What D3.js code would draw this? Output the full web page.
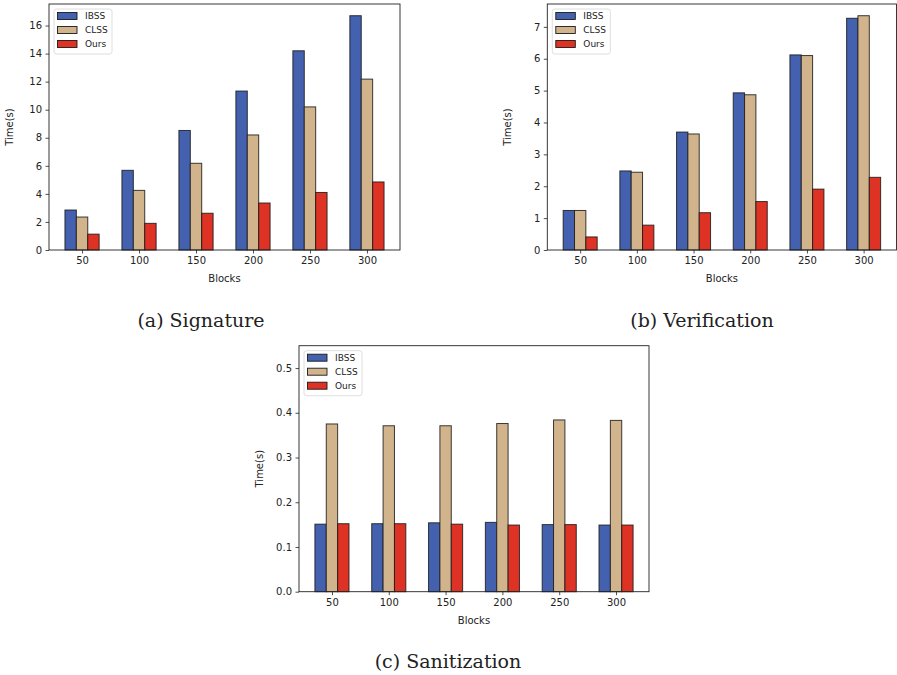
<!DOCTYPE html>
<html>
<head>
<meta charset="utf-8">
<script src="https://cdn.jsdelivr.net/npm/d3@7"></script>
<style>
body { margin: 0; background: #fff; }
svg text { font-family: "DejaVu Sans", sans-serif; fill: #222; }
.caption { font-family: "DejaVu Serif", serif; }
</style>
</head>
<body>
<div id="container"></div>
<script>
let blocks = ["50", "100", "150", "200", "250", "300"];
let seriesNames = ["IBSS", "CLSS", "Ours"];
let seriesColors = ["#4361ae", "#d2b48c", "#de3224"];

// (a) Signature
let sigIBSS = [2.85, 5.68, 8.52, 11.33, 14.2, 16.7];
let sigCLSS = [2.35, 4.25, 6.18, 8.2, 10.2, 12.18];
let sigOurs = [1.13, 1.9, 2.62, 3.35, 4.1, 4.85];
let sigTicks = [0, 2, 4, 6, 8, 10, 12, 14, 16];

// (b) Verification
let verIBSS = [1.24, 2.48, 3.7, 4.93, 6.12, 7.27];
let verCLSS = [1.24, 2.44, 3.64, 4.87, 6.1, 7.35];
let verOurs = [0.41, 0.78, 1.17, 1.52, 1.91, 2.28];
let verTicks = [0, 1, 2, 3, 4, 5, 6, 7];

// (c) Sanitization
let sanIBSS = [0.151, 0.152, 0.154, 0.155, 0.150, 0.149];
let sanCLSS = [0.375, 0.371, 0.371, 0.376, 0.384, 0.383];
let sanOurs = [0.152, 0.152, 0.151, 0.149, 0.150, 0.149];
let sanTicks = [0.0, 0.1, 0.2, 0.3, 0.4, 0.5];

let svg = d3.select('#container').append('svg')
    .attr('width', 897)
    .attr('height', 675);

function drawPanel(opts) {
    let left = opts.left, right = opts.right, top = opts.top, bottom = opts.bottom;
    let series = opts.series;
    let g = svg.append('g');

    // matplotlib style: bars at i, i+0.2, i+0.4, ticks at i+0.2
    let x = d3.scaleLinear().domain([-0.38, 5.78]).range([left, right]);
    let y = d3.scaleLinear().domain([0, opts.ymax]).range([bottom, top]);
    let bw = x(0.2) - x(0);

    series.forEach(function (vals, s) {
        g.selectAll(null)
            .data(vals)
            .enter()
            .append('rect')
            .attr('x', (d, i) => x(i + s * 0.2) - bw / 2)
            .attr('y', d => y(d))
            .attr('width', bw)
            .attr('height', d => y(0) - y(d))
            .attr('fill', seriesColors[s])
            .attr('stroke', '#1a1a1a')
            .attr('stroke-opacity', 0.85)
            .attr('stroke-width', 1);
    });

    let xAxis = d3.axisBottom(x)
        .tickValues(d3.range(6).map(i => i + 0.2))
        .tickFormat((d, i) => blocks[i])
        .tickSize(3.5)
        .tickPadding(3.5);
    let xg = g.append('g').attr('transform', 'translate(0,' + bottom + ')').call(xAxis);

    let yAxis = d3.axisLeft(y)
        .tickValues(opts.ticks)
        .tickFormat(opts.fmt)
        .tickSize(3.5)
        .tickPadding(3.5);
    let yg = g.append('g').attr('transform', 'translate(' + left + ',0)').call(yAxis);

    [xg, yg].forEach(function (a) {
        a.select('.domain').remove();
        a.selectAll('line').attr('stroke', '#222').attr('stroke-width', 0.8);
        a.selectAll('text').attr('font-size', 10).attr('fill', '#222')
            .style('font-family', '"DejaVu Sans", sans-serif');
    });

    g.append('rect')
        .attr('x', left).attr('y', top)
        .attr('width', right - left).attr('height', bottom - top)
        .attr('fill', 'none').attr('stroke', '#222').attr('stroke-width', 0.9);

    g.append('text')
        .attr('x', (left + right) / 2).attr('y', bottom + 32)
        .attr('text-anchor', 'middle').attr('font-size', 10)
        .text('Blocks');

    g.append('text')
        .attr('transform', 'translate(' + (left - 36) + ',' + ((top + bottom) / 2) + ') rotate(-90)')
        .attr('text-anchor', 'middle').attr('font-size', 10)
        .text('Time(s)');

    // legend
    let lg = g.append('g').attr('transform', 'translate(' + (left + 5) + ',' + (top + 5) + ')');
    lg.append('rect')
        .attr('width', 58).attr('height', 45).attr('rx', 2.5)
        .attr('fill', '#fff').attr('fill-opacity', 0.8)
        .attr('stroke', '#d5d5d5').attr('stroke-width', 0.8);
    seriesNames.forEach(function (name, s) {
        let cy = 7 + s * 14;
        lg.append('rect')
            .attr('x', 3.5).attr('y', cy - 3.5)
            .attr('width', 19.5).attr('height', 7)
            .attr('fill', seriesColors[s])
            .attr('stroke', '#1a1a1a').attr('stroke-width', 0.9);
        lg.append('text')
            .attr('x', 31).attr('y', cy + 3.3)
            .attr('font-size', 9)
            .text(name);
    });

    svg.append('text')
        .attr('class', 'caption')
        .attr('x', opts.capX).attr('y', opts.capY)
        .attr('text-anchor', 'middle')
        .attr('font-size', 19)
        .text(opts.caption);
}

drawPanel({
    left: 49, right: 400, top: 4, bottom: 250,
    series: [sigIBSS, sigCLSS, sigOurs],
    ymax: d3.max(sigIBSS.concat(sigCLSS, sigOurs)) * 1.05,
    ticks: sigTicks, fmt: d3.format('d'),
    caption: '(a) Signature', capX: 201, capY: 327
});

drawPanel({
    left: 547.3, right: 896.5, top: 4, bottom: 250,
    series: [verIBSS, verCLSS, verOurs],
    ymax: d3.max(verIBSS.concat(verCLSS, verOurs)) * 1.05,
    ticks: verTicks, fmt: d3.format('d'),
    caption: '(b) Verification', capX: 702, capY: 327
});

drawPanel({
    left: 299, right: 649, top: 345.7, bottom: 591.7,
    series: [sanIBSS, sanCLSS, sanOurs],
    ymax: 0.55,
    ticks: sanTicks, fmt: d3.format('.1f'),
    caption: '(c) Sanitization', capX: 448, capY: 668
});
</script>
</body>
</html>
